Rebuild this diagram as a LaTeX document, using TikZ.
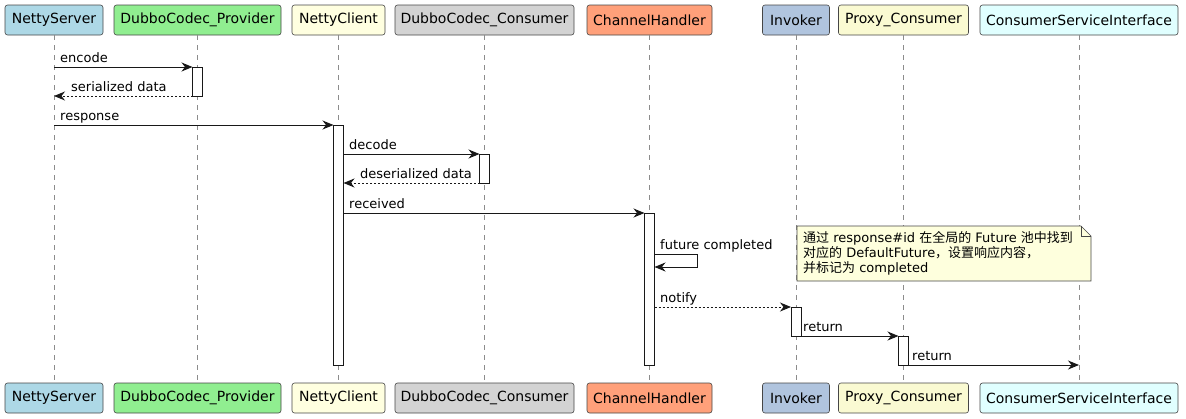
\documentclass[tikz,border=0pt]{standalone}
\usepackage{fontspec}
\setmainfont{DejaVu Sans}
\newfontfamily\cjk{Noto Sans CJK SC}
\usetikzlibrary{arrows.meta}
\definecolor{cNS}{HTML}{ADD8E6}
\definecolor{cDP}{HTML}{90EE90}
\definecolor{cNC}{HTML}{FFFFE0}
\definecolor{cDC}{HTML}{D3D3D3}
\definecolor{cCH}{HTML}{FFA07A}
\definecolor{cIN}{HTML}{B0C4DE}
\definecolor{cPC}{HTML}{FAFAD2}
\definecolor{cCS}{HTML}{E0FFFF}
\definecolor{noteFill}{HTML}{FEFFDD}
\definecolor{edge}{HTML}{181818}
\tikzset{
  part/.style={draw=edge!80, line width=0.6pt, rounded corners=2.5pt, minimum height=30pt, inner sep=0pt, font=\fontsize{14}{16}\selectfont},
  lifeline/.style={draw=gray!90, line width=0.5pt, dash pattern=on 5pt off 5pt},
  actbar/.style={draw=edge, fill=white, line width=0.8pt, minimum width=10pt, inner sep=0pt, outer sep=0pt},
  msg/.style={draw=edge, line width=1pt, -{Stealth[length=11pt,width=9pt,inset=3.5pt]}},
  ret/.style={msg, dash pattern=on 2pt off 2pt},
  lbl/.style={font=\fontsize{13}{15}\selectfont, anchor=base west, inner sep=0pt}
}
\begin{document}
\begin{tikzpicture}[x=1pt,y=-1pt]
\useasboundingbox (0,0) rectangle (1186,418);
% participants top
\node[part, fill=cNS, minimum width=98pt] (ns) at (54,20) {NettyServer};
\node[part, fill=cDP, minimum width=167pt] (dp) at (197.5,20) {DubboCodec\_Provider};
\node[part, fill=cNC, minimum width=93pt] (nc) at (338.5,20) {NettyClient};
\node[part, fill=cDC, minimum width=179pt] (dc) at (484.5,20) {DubboCodec\_Consumer};
\node[part, fill=cCH, minimum width=125pt] (ch) at (649.5,20) {ChannelHandler};
\node[part, fill=cIN, minimum width=67pt] (in) at (796,20) {Invoker};
\node[part, fill=cPC, minimum width=130pt] (pc) at (903.5,20) {Proxy\_Consumer};
\node[part, fill=cCS, minimum width=198pt] (cs) at (1079,20) {ConsumerServiceInterface};
% participants bottom
\node[part, fill=cNS, minimum width=98pt] (nsB) at (54,398) {NettyServer};
\node[part, fill=cDP, minimum width=167pt] (dpB) at (197.5,398) {DubboCodec\_Provider};
\node[part, fill=cNC, minimum width=93pt] (ncB) at (338.5,398) {NettyClient};
\node[part, fill=cDC, minimum width=179pt] (dcB) at (484.5,398) {DubboCodec\_Consumer};
\node[part, fill=cCH, minimum width=125pt] (chB) at (649.5,398) {ChannelHandler};
\node[part, fill=cIN, minimum width=67pt] (inB) at (796,398) {Invoker};
\node[part, fill=cPC, minimum width=130pt] (pcB) at (903.5,398) {Proxy\_Consumer};
\node[part, fill=cCS, minimum width=198pt] (csB) at (1079,398) {ConsumerServiceInterface};
% lifelines
\foreach \p in {ns,dp,nc,dc,ch,in,pc,cs}{
  \draw[lifeline] (\p.south) -- (\p B.north);
}
% activation bars
\node[actbar, minimum height=29pt] (aDP) at (197.5,81.5) {};
\node[actbar, minimum height=240pt] (aNC) at (338.5,245) {};
\node[actbar, minimum height=29pt] (aDC) at (484.5,168.5) {};
\node[actbar, minimum height=152pt] (aCH) at (649.5,289) {};
\node[actbar, minimum height=29pt] (aIN) at (796,321.5) {};
\node[actbar, minimum height=29pt] (aPC) at (903.5,350.5) {};
% free ends on lifelines
\coordinate (s1) at (ns.south |- 0,67);
\coordinate (e2) at (ns.south |- 0,96);
\coordinate (s3) at (ns.south |- 0,125);
\coordinate (e10) at (cs.south |- 0,365);
% messages
\draw[msg] (s1) -- (s1 -| aDP.west);
\node[lbl] (l1) at (60,62) {encode};
\draw[ret] (aDP.west |- e2) -- (e2);
\node[lbl] (l2) at (71,91) {serialized data};
\draw[msg] (s3) -- (s3 -| aNC.west);
\node[lbl] (l3) at (60,120) {response};
\draw[msg] (aNC.east |- 0,154) -- (aDC.west |- 0,154);
\node[lbl] (l4) at (349,149) {decode};
\draw[ret] (aDC.west |- 0,183) -- (aNC.east |- 0,183);
\node[lbl] (l5) at (360,178) {deserialized data};
\draw[msg] (aNC.east |- 0,213) -- (aCH.west |- 0,213);
\node[lbl] (l6) at (349,208) {received};
\draw[msg] (aCH.east |- 0,254) -- (697,254) -- (697,267) -- (aCH.east |- 0,267);
\node[lbl] (l7) at (660,249) {future completed};
\draw[ret] (aCH.east |- 0,307) -- (aIN.west |- 0,307);
\node[lbl] (l8) at (660,302) {notify};
\draw[msg] (aIN.east |- 0,336) -- (aPC.west |- 0,336);
\node[lbl] (l9) at (803,331) {return};
\draw[msg] (aPC.east |- e10) -- (e10);
\node[lbl] (l10) at (912,360) {return};
% note
\draw[draw=edge!80, fill=noteFill, line width=0.6pt] (797,226) -- (1081,226) -- (1091,236) -- (1091,281) -- (797,281) -- cycle;
\draw[draw=edge!80, line width=0.6pt] (1081,226) -- (1081,236) -- (1091,236);
\node[font=\fontsize{13}{15}\selectfont, align=left, anchor=north west, inner sep=0pt] (note) at (803,231)
 {{\cjk 通过} response\#id {\cjk 在全局的} Future {\cjk 池中找到}\\
  {\cjk 对应的} DefaultFuture{\cjk ，设置响应内容，}\\
  {\cjk 并标记为} completed};
\end{tikzpicture}
\end{document}
